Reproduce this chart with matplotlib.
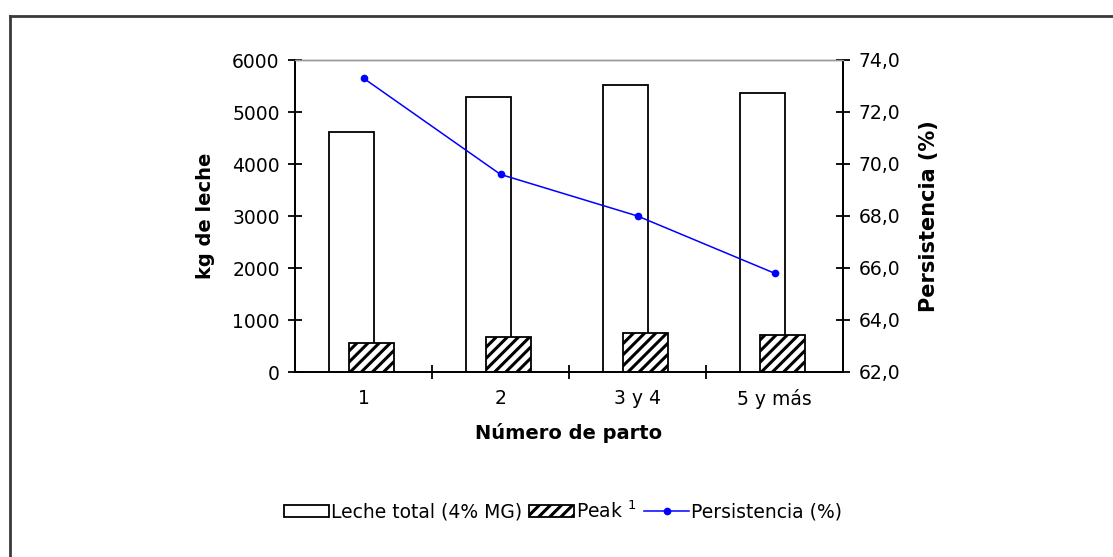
import numpy as np
import matplotlib.pyplot as plt
from matplotlib.patches import Patch
from matplotlib.lines import Line2D
from matplotlib.ticker import FixedLocator, FuncFormatter

plt.rcParams['font.family'] = ['DejaVu Sans']
plt.rcParams['hatch.linewidth'] = 2.2

# Production by calving number
partos = ['1', '2', '3 y 4', '5 y más']
leche_total = [4610, 5285, 5520, 5365]      # kg, 4% MG
peak = [565, 680, 755, 715]                  # kg
persistencia = [73.3, 69.6, 68.0, 65.8]      # %

fig = plt.figure(figsize=(11.13, 5.57), dpi=100)
ax = fig.add_axes([295 / 1113, 1 - 372 / 557, 548 / 1113, 312 / 557])
ax2 = ax.twinx()

x = np.arange(len(partos))
w = 0.33
ax.bar(x - 0.085, leche_total, w, color='white', edgecolor='black', linewidth=1.3, zorder=2)
ax.bar(x + 0.06, peak, w, color='white', edgecolor='black', linewidth=1.3, hatch='///', zorder=3)

ax2.plot(x, persistencia, color='#0000ff', linewidth=1.1, marker='o', markersize=4.5, zorder=4)

# left axis
ax.set_xlim(-0.5, len(partos) - 0.5)
ax.set_ylim(0, 6000)
ax.set_yticks(np.arange(0, 6001, 1000))
ax.set_ylabel('kg de leche', fontsize=14, fontweight='bold', labelpad=12)

# right axis
ax2.set_ylim(62, 74)
ax2.set_yticks(np.arange(62, 74.1, 2))
ax2.yaxis.set_major_formatter(FuncFormatter(lambda v, p: f'{v:.1f}'.replace('.', ',')))
ax2.set_ylabel('Persistencia (%)', fontsize=15, fontweight='bold', labelpad=14)

# category labels centred, ticks between categories
ax.set_xticks(x)
ax.set_xticklabels(partos)
ax.xaxis.set_minor_locator(FixedLocator(np.arange(0.5, len(partos) - 0.5, 1)))
ax.tick_params(axis='x', which='major', length=0, pad=12, labelsize=13.5)
ax.tick_params(axis='x', which='minor', direction='inout', length=10, width=1.3)
ax.tick_params(axis='y', direction='inout', length=10, width=1.3, labelsize=13.5, pad=6)
ax2.tick_params(axis='y', direction='inout', length=10, width=1.3, labelsize=13.5, pad=6)
ax.set_xlabel('Número de parto', fontsize=14, fontweight='bold', labelpad=10)

for a in (ax, ax2):
    for s in ('left', 'right', 'bottom'):
        a.spines[s].set_linewidth(1.3)
        a.spines[s].set_color('black')
    a.spines['top'].set_color('#999999')
    a.spines['top'].set_linewidth(1.0)

handles = [
    Patch(facecolor='white', edgecolor='black', linewidth=1.3),
    Patch(facecolor='white', edgecolor='black', linewidth=1.3, hatch='///'),
    Line2D([], [], color='#0000ff', linewidth=1.1, marker='o', markersize=4.5),
]
labels = ['Leche total (4% MG)', r'Peak $^{1}$', 'Persistencia (%)']
fig.legend(handles, labels, loc='center', bbox_to_anchor=(563 / 1113, 1 - 511 / 557),
           ncol=3, frameon=False, fontsize=13.5, handlelength=2.4, handleheight=0.65,
           handletextpad=0.1, columnspacing=0.4, borderpad=0)

# outer chart border
fx, fy = 9.5 / 1113, 1 - 15.5 / 557
fig.add_artist(Line2D([fx, fx], [0, fy], transform=fig.transFigure, color='#3a3a3a', linewidth=2))
fig.add_artist(Line2D([fx, 1], [fy, fy], transform=fig.transFigure, color='#3a3a3a', linewidth=2))

fig.savefig('out.png', dpi=100)
